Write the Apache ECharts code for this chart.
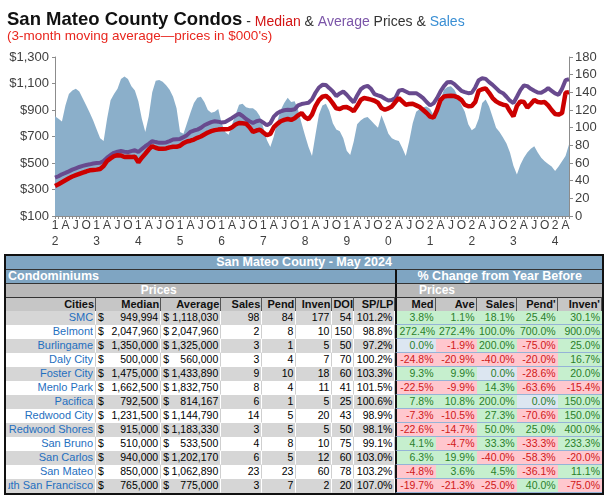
<!DOCTYPE html>
<html>
<head>
<meta charset="utf-8">
<script src="https://cdn.jsdelivr.net/npm/echarts@6/dist/echarts.min.js"></script>
<style>
body{margin:0;background:#fff;font-family:"Liberation Sans",Arial,sans-serif;}
#chart{position:absolute;left:0;top:0;width:605px;height:250px;}
#tbl{position:absolute;left:4px;top:254px;border:2px solid #111;border-collapse:separate;border-spacing:0;table-layout:fixed;width:600px;font-size:10.5px;}
#tbl td{padding:0 2px;height:13px;line-height:13px;white-space:nowrap;overflow:hidden;box-sizing:content-box;}
.ttl td{background:#7FA5C2;color:#fff;font-weight:bold;font-size:12.5px;}
.gh td{background:#B8B8B8;color:#fff;font-weight:bold;font-size:12px;}
#tbl .hd td{background:#C6C6C6;color:#111;font-weight:bold;font-size:11px;border-right:1px solid #555;border-top:1px solid #333;padding:0 1px;}
.city{color:#1F6FC0;text-align:right;font-size:11px;}
.city div{display:flex;justify-content:flex-end;overflow:hidden;}
.money div{display:flex;justify-content:space-between;}
.num{text-align:right;}
.pos{background:#C6EFCE;color:#2A7F2A;text-align:right;}
.neg{background:#FFC7CE;color:#D01818;text-align:right;}
.zero{background:#DCE6F1;color:#2A7F2A;text-align:right;}
.sep{border-left:2px solid #111;}
</style>
</head>
<body>
<div id="chart"></div>
<table id="tbl"></table>
<script>
// chart series, monthly Jan 2012 .. May 2024 (3-month moving averages)
var firstYear = 2012;
var monthCount = 149;
var priceTicks = [100, 300, 500, 700, 900, 1100, 1300];

var salesSeries = [
  113,110,107,125,138,142,144,141,133,125,117,108,
  98,88,85,110,131,138,144,155,158,155,147,142,
  130,110,95,113,140,153,154,152,148,143,135,122,
  95,93,105,117,128,134,135,129,120,117,118,121,
  105,95,92,104,115,126,127,123,122,122,119,113,
  100,86,78,90,107,120,128,134,129,130,120,105,
  91,78,68,92,115,125,127,119,105,98,96,88,
  74,69,84,104,108,111,112,108,104,100,114,104,
  93,88,86,85,77,68,85,105,118,121,123,124,
  121,114,122,132,143,146,147,143,135,126,118,104,
  97,100,110,128,132,124,112,100,95,89,82,72,
  57,47,58,66,72,76,79,72,66,62,59,56,
  51,56,62,68,81
];

var medianPrice = [
  327,340,355,370,385,398,408,418,428,436,445,448,
  450,455,477,515,535,552,558,557,545,548,545,547,
  505,540,570,602,627,615,607,607,610,618,622,622,
  630,650,662,668,677,690,700,715,730,740,748,752,
  755,755,757,770,790,802,800,797,770,735,745,752,
  730,710,720,770,795,815,825,832,825,838,860,877,
  845,830,865,930,975,1000,1007,985,950,912,907,920,
  922,910,890,930,975,990,985,978,970,955,915,902,
  912,927,960,990,965,940,945,947,935,922,900,877,
  850,842,900,975,1002,1005,1007,1005,995,977,940,928,
  930,960,1045,1057,1063,1030,990,965,950,940,935,890,
  852,930,965,960,918,945,975,960,957,960,935,900,
  870,865,877,1030,1035
];

var averagePrice = [
  390,400,415,425,437,450,460,470,478,485,490,496,
  500,502,515,540,560,577,585,590,585,582,590,597,
  583,605,627,645,665,658,652,652,655,665,677,680,
  682,695,710,735,745,752,765,785,797,808,815,812,
  805,810,825,840,858,872,855,832,815,802,815,822,
  805,785,800,850,875,890,898,902,900,905,935,945,
  950,955,980,1030,1070,1090,1088,1065,1040,1005,1025,1040,
  1015,985,958,1010,1055,1075,1082,1060,1020,1010,1002,985,
  972,975,990,1045,1052,1040,1027,1027,1027,1010,990,960,
  935,950,990,1040,1080,1110,1112,1095,1070,1045,1035,1027,
  1030,1070,1125,1140,1135,1110,1090,1065,1040,1027,1000,970,
  952,1000,1050,1085,1080,1060,1045,1032,1030,1045,1065,1045,
  1025,1015,1060,1125,1132
];

var months = [];
for (var k = 0; k < monthCount; k++) {
  months.push((firstYear + Math.floor(k / 12)) + '-' + (k % 12 + 1));
}
var quarterLetters = {3: 'A', 6: 'J', 9: 'O'};

var myChart = echarts.init(document.getElementById('chart'));
var titleFont = {fontFamily: 'Liberation Sans', verticalAlign: 'bottom', lineHeight: 22, fontSize: 14, fontWeight: 'normal'};
var option = {
  animation: false,
  title: {
    left: 2,
    top: 2,
    text: '{a|San Mateo County Condos}{b| - }{m|Median}{b| & }{v|Average}{b| Prices & }{s|Sales}',
    subtext: "(3-month moving average\u2014prices in $000's)",
    itemGap: 3,
    textStyle: {
      fontFamily: 'Liberation Sans',
      rich: {
        a: {fontSize: 18.5, fontWeight: 'bold', color: '#111', fontFamily: 'Liberation Sans', verticalAlign: 'bottom', lineHeight: 22},
        b: Object.assign({color: '#333'}, titleFont),
        m: Object.assign({color: '#D31414'}, titleFont),
        v: Object.assign({color: '#7B55A8'}, titleFont),
        s: Object.assign({color: '#3A8FD4'}, titleFont)
      }
    },
    subtextStyle: {fontSize: 13.5, color: '#E8261E', fontFamily: 'Liberation Sans'}
  },
  grid: {left: 55, right: 36, top: 57, bottom: 33},
  xAxis: {
    type: 'category',
    data: months,
    boundaryGap: false,
    axisLine: {lineStyle: {color: '#8C8C8C'}},
    axisTick: {interval: 0, length: 3, lineStyle: {color: '#8C8C8C'}},
    axisLabel: {
      interval: function (i) { return i % 3 === 0; },
      formatter: function (v, i) {
        var m = i % 12;
        if (m === 0) {
          var yy = String((firstYear + Math.floor(i / 12)) % 100);
          if (yy.length < 2) yy = '0' + yy;
          return yy.charAt(0) + '\n' + yy.charAt(1);
        }
        return quarterLetters[m];
      },
      color: '#404040',
      fontSize: 12,
      lineHeight: 16,
      margin: 2,
      fontFamily: 'Liberation Sans'
    }
  },
  yAxis: [
    {
      type: 'value',
      min: 100,
      max: 1300,
      splitLine: {show: false},
      axisLine: {show: true, lineStyle: {color: '#8C8C8C'}},
      axisTick: {show: true, length: 3, customValues: priceTicks, lineStyle: {color: '#8C8C8C'}},
      axisLabel: {
        customValues: priceTicks,
        formatter: function (v) { return '$' + v.toLocaleString('en-US'); },
        color: '#404040', fontSize: 13, margin: 6, fontFamily: 'Liberation Sans'
      }
    },
    {
      type: 'value',
      min: 0,
      max: 180,
      interval: 20,
      splitLine: {show: false},
      axisLine: {show: true, lineStyle: {color: '#8C8C8C'}},
      axisTick: {show: true, length: 4, lineStyle: {color: '#8C8C8C'}},
      axisLabel: {color: '#404040', fontSize: 13, margin: 6, fontFamily: 'Liberation Sans'}
    }
  ],
  series: [
    {
      name: 'Sales', type: 'line', yAxisIndex: 1, data: salesSeries,
      symbol: 'none', lineStyle: {width: 0}, areaStyle: {color: '#8BAFCA', opacity: 1}
    },
    {
      name: 'Average', type: 'line', data: averagePrice,
      symbol: 'none', lineStyle: {width: 4, color: '#684A8E'}
    },
    {
      name: 'Median', type: 'line', data: medianPrice,
      symbol: 'none', lineStyle: {width: 4.5, color: '#CC0000'}
    }
  ]
};
myChart.setOption(option);

// table, San Mateo County condos May 2024
var cities = ['SMC','Belmont','Burlingame','Daly City','Foster City','Menlo Park','Pacifica','Redwood City','Redwood Shores','San Bruno','San Carlos','San Mateo','South San Francisco'];
var medians = [949994,2047960,1350000,500000,1475000,1662500,792500,1231500,915000,510000,940000,850000,765000];
var averages = [1118030,2047960,1325000,560000,1433890,1832750,814167,1144790,1183330,533500,1202170,1062890,775000];
var salesCount = [98,2,3,3,9,8,6,14,3,4,6,23,3];
var pending = [84,8,1,4,10,4,1,5,5,8,5,23,7];
var inventory = [177,10,5,7,18,11,5,20,5,10,12,60,2];
var doi = [54,150,50,70,60,41,25,43,50,75,60,78,20];
var spLp = [101.2,98.8,97.2,100.2,103.3,101.5,100.6,98.9,98.1,99.1,103.0,103.2,107.0];
var chgMed = [3.8,272.4,0.0,-24.8,9.3,-22.5,7.8,-7.3,-22.6,4.1,6.3,-4.8,-19.7];
var chgAve = [1.1,272.4,-1.9,-20.9,9.9,-9.9,10.8,-10.5,-14.7,-4.7,19.9,3.6,-21.3];
var chgSales = [18.1,100.0,200.0,-40.0,0.0,14.3,200.0,27.3,50.0,33.3,-40.0,4.5,-25.0];
var chgPend = [25.4,700.0,-75.0,-20.0,-28.6,-63.6,0.0,-70.6,25.0,-33.3,-58.3,-36.1,40.0];
var chgInven = [30.1,900.0,25.0,16.7,20.0,-15.4,150.0,150.0,400.0,233.3,-20.0,11.1,-75.0];
var headers = ['Cities','Median','Average','Sales','Pend','Inven','DOI','SP/LP','Med','Ave','Sales',"Pend'","Inven'"];
var colWidths = [86,61,56,37,30,32,18,37,36,37,36,37,40];

function fmt(n) { return n.toLocaleString('en-US'); }
function pctCell(v, first) {
  var cls = v > 0 ? 'pos' : (v < 0 ? 'neg' : 'zero');
  return '<td class="' + cls + (first ? ' sep' : '') + '" style="border-bottom:1px solid #95B3D7">' + v.toFixed(1) + '%</td>';
}

var html = '<colgroup>';
colWidths.forEach(function (w) { html += '<col style="width:' + (w + 4) + 'px">'; });
html += '</colgroup>';
html += '<tr class="ttl"><td colspan="13" style="text-align:center">San Mateo County - May 2024</td></tr>';
html += '<tr class="ttl"><td colspan="8" style="border-top:1px solid #333">Condominiums</td>' +
        '<td colspan="5" class="sep" style="text-align:center;border-top:1px solid #333">% Change from Year Before</td></tr>';
html += '<tr class="gh"><td style="border-top:1px solid #333"></td><td colspan="2" style="text-align:center;border-top:1px solid #333">Prices</td>' +
        '<td colspan="5" style="border-top:1px solid #333"></td>' +
        '<td colspan="2" class="sep" style="text-align:center;border-top:1px solid #333">Prices</td><td colspan="3" style="border-top:1px solid #333"></td></tr>';
html += '<tr class="hd">';
headers.forEach(function (h, i) {
  html += '<td style="text-align:right"' + (i === 8 ? ' class="sep"' : '') + '>' + h + '</td>';
});
html += '</tr>';
cities.forEach(function (c, r) {
  var bg = r % 2 === 0 ? '#D6D6D6' : '#FFFFFF';
  var ln = r % 2 === 0 ? '#FFFFFF' : '#CFCFCF';
  var st = ' style="background:' + bg + ';border-right:1px solid ' + ln + ';border-bottom:1px solid ' + bg + '"';
  html += '<tr>';
  html += '<td class="city"' + st + '><div>' + c + '</div></td>';
  html += '<td class="money"' + st + '><div><span>$</span><span>' + fmt(medians[r]) + '</span></div></td>';
  html += '<td class="money"' + st + '><div><span>$</span><span>' + fmt(averages[r]) + '</span></div></td>';
  html += '<td class="num"' + st + ' >' + salesCount[r] + '</td>';
  html += '<td class="num"' + st + '>' + pending[r] + '</td>';
  html += '<td class="num"' + st + '>' + inventory[r] + '</td>';
  html += '<td class="num"' + st + '>' + doi[r] + '</td>';
  html += '<td class="num"' + st + '>' + spLp[r].toFixed(1) + '%</td>';
  html += pctCell(chgMed[r], true) + pctCell(chgAve[r]) + pctCell(chgSales[r]) + pctCell(chgPend[r]) + pctCell(chgInven[r]);
  html += '</tr>';
});
document.getElementById('tbl').innerHTML = html;
</script>
</body>
</html>
